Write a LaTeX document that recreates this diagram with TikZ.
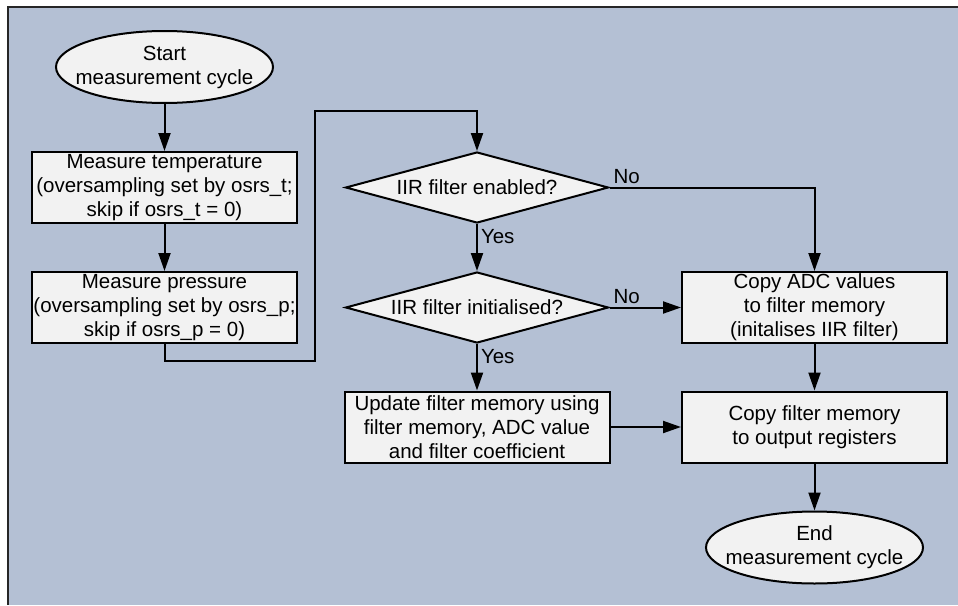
\documentclass[tikz,border=0pt]{standalone}
\usepackage{fontspec}
\setmainfont{Liberation Sans}
\usetikzlibrary{shapes.geometric,arrows.meta}
\definecolor{bgblue}{RGB}{180,192,212}
\definecolor{boxgray}{RGB}{242,242,242}
\begin{document}
\begin{tikzpicture}[x=1pt,y=-1pt,line width=2pt,
every node/.style={font=\fontsize{20.5}{24}\selectfont},
% common options for arrows:
arr/.style = {-{Triangle[length=18pt,width=12pt]}},
% common options for blocks:
block/.style = {draw, fill=boxgray, align=center, minimum width=265pt,
            minimum height=71pt, inner sep=0},
% common options for the start/end ellipses:
oval/.style = {ellipse, draw, fill=boxgray, align=center, minimum width=217pt,
            minimum height=72pt, inner xsep=-14pt, inner ysep=0},
% common options for the decisions:
decide/.style = {diamond, draw, fill=boxgray, align=center, aspect=3.7,
            minimum width=263pt, minimum height=71pt, inner sep=1pt},
lbl/.style = {inner sep=3pt}]
\useasboundingbox (0,0) rectangle (958,605);
\fill[bgblue] (8,7) rectangle (958,605);
\draw[black!85] (958,7) -- (8,7) -- (8,605);
\node[oval] (S) at (164.5,67) {Start\\measurement cycle};
\node[block] (L1) at (164.5,187.5) {Measure temperature\\(oversampling set by osrs\_t;\\skip if osrs\_t = 0)};
\node[block] (L2) at (164.5,307.5) {Measure pressure\\(oversampling set by osrs\_p;\\skip if osrs\_p = 0)};
\node[decide] (D1) at (477,187.5) {IIR filter enabled?};
\node[decide] (D2) at (477,307.5) {IIR filter initialised?};
\node[block] (M3) at (477,427) {Update filter memory using\\filter memory, ADC value\\and filter coefficient};
\node[block] (R1) at (814.5,307.5) {Copy ADC values\\to filter memory\\(initalises IIR filter)};
\node[block] (R2) at (814.5,427) {Copy filter memory\\to output registers};
\node[oval] (E) at (814.5,547.5) {End\\measurement cycle};
\coordinate (K1) at (315,361);
\coordinate (K2) at (315,111);
\draw[arr] (S.south) to (L1.north);
\draw[arr] (L1.south) to (L2.north);
\draw[arr] (L2.south) |- (K1) -- (K2) -| (D1.north);
\draw[arr] (D1.south) to node[lbl, pos=0.27, anchor=west] {Yes} (D2.north);
\draw[arr] (D2.south) to node[lbl, pos=0.27, anchor=west] {Yes} (M3.north);
\draw[arr] (D1.east) -| node[lbl, pos=0, anchor=south west] {No} (R1.north);
\draw[arr] (D2.east) to node[lbl, pos=0, anchor=south west] {No} (R1.west);
\draw[arr] (M3.east) to (R2.west);
\draw[arr] (R1.south) to (R2.north);
\draw[arr] (R2.south) to (E.north);
\end{tikzpicture}
\end{document}
